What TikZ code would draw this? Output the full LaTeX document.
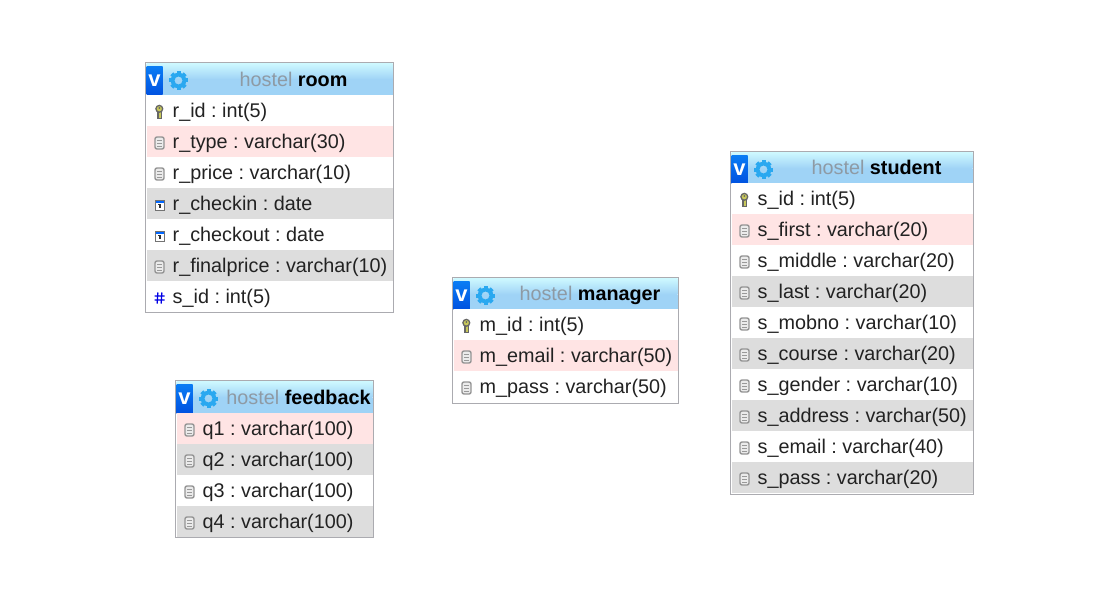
\documentclass[tikz,border=0pt]{standalone}
\usepackage{fontspec}
\setmainfont{Liberation Sans}
\definecolor{bordc}{HTML}{ABABB0}
\definecolor{pinkrow}{HTML}{FFE4E4}
\definecolor{greyrow}{HTML}{DDDDDD}
\definecolor{hdtop}{HTML}{CDF8FF}
\definecolor{hdbot}{HTML}{9FD3F6}
\definecolor{vtop}{HTML}{0A7CF4}
\definecolor{vbot}{HTML}{0052E0}
\definecolor{gearc}{HTML}{2AA8F0}
\definecolor{hostc}{HTML}{8E9AA4}
\definecolor{txtc}{HTML}{222222}
\definecolor{keyc}{HTML}{C8C85A}
\tikzset{
  x=1pt,y=-1pt,
  rowtext/.style={anchor=base west,inner sep=0pt,font=\fontsize{19.8}{20}\selectfont\frenchspacing,text=txtc},
  titletext/.style={anchor=base,inner sep=0pt,font=\fontsize{19.8}{20}\selectfont\frenchspacing},
  vletter/.style={anchor=center,inner sep=0pt,text=white,font=\fontsize{22}{22}\selectfont\bfseries},
}
% icons, centred on (#1,#2)
\newcommand{\iconcol}[2]{\begin{scope}[shift={(#1,#2)}]
  \draw[fill=black!8,draw=black!42,line width=1.4pt,rounded corners=2pt] (-4.5,-6) rectangle (4.5,6);
  \draw[black!40,line width=1pt] (-2.2,-3)--(2.2,-3) (-2.2,0)--(2.2,0) (-2.2,3)--(2.2,3);
\end{scope}}
\newcommand{\iconkey}[2]{\begin{scope}[shift={(#1,#2)}]
  \fill[black!60] (-2.4,-2) rectangle (2.6,7);
  \fill[keyc] (-.7,-3) rectangle (1.2,5.6);
  \draw[fill=keyc,draw=black!60,line width=1.3pt] (-.2,-3.2) circle (3.4);
  \fill[black!60] (-.2,-4) circle (1);
\end{scope}}
\newcommand{\icondate}[2]{\begin{scope}[shift={(#1,#2)}]
  \fill[white] (-4.5,-5) rectangle (4.5,5);
  \fill[blue!60!cyan] (-4.5,-5) rectangle (4.5,-2);
  \draw[black!55,line width=.9pt] (-4.5,-5) rectangle (4.5,5);
  \draw[black!80,line width=1.3pt] (-1.2,-.5)--(.6,-.5)--(.6,3.4);
\end{scope}}
\newcommand{\iconhash}[2]{\begin{scope}[shift={(#1,#2)}]
  \draw[blue!90!black,line width=1.3pt] (-1.6,-5.5)--(-2.4,5.5) (2.4,-5.5)--(1.6,5.5) (-5,-2)--(5,-2) (-5,2)--(5,2);
\end{scope}}
% #1 name #2 left #3 top #4 right #5 bottom #6 title-centre x #7 hostel #8 table #9 rows
% \rs = distance from the top border to the first row
\newcommand{\dbtable}[9]{%
  \fill[white] (#2,#3) rectangle (#4,#5);
  \shade[top color=hdtop,bottom color=hdbot] (#2+1,#3+1) rectangle (#4-1,#3+17);
  \fill[hdbot] (#2+1,#3+17) rectangle (#4-1,#3+\rs);
  \shade[top color=vtop,bottom color=vbot] (#2+1,#3+4) rectangle (#2+17,#3+\rs);
  \node[vletter] (#1v) at (#2+9,#3+18) {v};
  \begin{scope}[shift={(#2+33,#3+18)}]
    \foreach \a in {0,45,...,315}{\fill[gearc,rotate=\a] (-2,-9.5) rectangle (2,-5);}
    \fill[gearc,even odd rule] (0,0) circle (7.8) (0,0) circle (4);
  \end{scope}
  \node[titletext] (#1t) at (#6,#3+\rs-8.5) {\textcolor{hostc}{#7} \textbf{\textcolor{black}{#8}}};
  \foreach \ic/\bg/\tx [count=\i from 0] in {#9}{
    \pgfmathsetmacro{\ry}{#3+\rs+31*\i}
    \fill[\bg] (#2+1,\ry) rectangle (#4-1,\ry+31);
    \csname icon\ic\endcsname{#2+14}{\ry+17}
    \node[rowtext] (#1r\i) at (#2+27,\ry+22.5) {\tx};
  }
  \draw[bordc,line width=1pt] (#2,#3) rectangle (#4,#5);
}
\begin{document}
\begin{tikzpicture}
\useasboundingbox (0,0) rectangle (1107,599);
\fill[white] (0,0) rectangle (1107,599);
\def\rs{32.5}
\dbtable{room}{145.5}{62.5}{393.5}{312.5}{293.5}{hostel}{room}{
 key/white/{r\_id : int(5)},
 col/pinkrow/{r\_type : varchar(30)},
 col/white/{r\_price : varchar(10)},
 date/greyrow/{r\_checkin : date},
 date/white/{r\_checkout : date},
 col/greyrow/{r\_finalprice : varchar(10)},
 hash/white/{s\_id : int(5)}}
\def\rs{31.5}
\dbtable{student}{730.5}{151.5}{973.5}{494.5}{876.5}{hostel}{student}{
 key/white/{s\_id : int(5)},
 col/pinkrow/{s\_first : varchar(20)},
 col/white/{s\_middle : varchar(20)},
 col/greyrow/{s\_last : varchar(20)},
 col/white/{s\_mobno : varchar(10)},
 col/greyrow/{s\_course : varchar(20)},
 col/white/{s\_gender : varchar(10)},
 col/greyrow/{s\_address : varchar(50)},
 col/white/{s\_email : varchar(40)},
 col/greyrow/{s\_pass : varchar(20)}}
\dbtable{manager}{452.5}{277.5}{678.5}{403.5}{590}{hostel}{manager}{
 key/white/{m\_id : int(5)},
 col/pinkrow/{m\_email : varchar(50)},
 col/white/{m\_pass : varchar(50)}}
\def\rs{32.5}
\dbtable{feedback}{175.5}{380.5}{373.5}{537.5}{298.5}{hostel}{feedback}{
 col/pinkrow/{q1 : varchar(100)},
 col/greyrow/{q2 : varchar(100)},
 col/white/{q3 : varchar(100)},
 col/greyrow/{q4 : varchar(100)}}
\end{tikzpicture}
\end{document}
